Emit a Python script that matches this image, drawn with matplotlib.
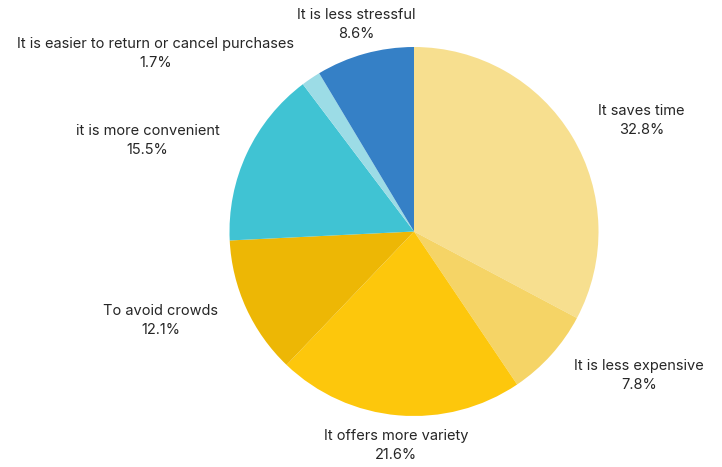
import numpy as np
import matplotlib
matplotlib.use("Agg")
import matplotlib.pyplot as plt

plt.rcParams["font.family"] = ["Inter", "DejaVu Sans"]

reasons = ["It saves time", "It is less expensive", "It offers more variety",
           "To avoid crowds", "it is more convenient",
           "It is easier to return or cancel purchases", "It is less stressful"]
shares = [32.8, 7.8, 21.6, 12.1, 15.5, 1.7, 8.6]
colors = ["#F7DF8F", "#F5D466", "#FDC70C", "#EDB705", "#40C3D3", "#9CDCE6", "#3580C6"]

R_PX = 184.5          # pie radius in pixels
CX, CY = 414, 231.5   # pie centre, pixels from top-left
W, H = 722, 467

fig = plt.figure(figsize=(W / 100, H / 100), dpi=100)
ax = fig.add_axes([0, 0, 1, 1])

labels = [f"{r}\n{s:.1f}%" for r, s in zip(reasons, shares)]
wedges, texts = ax.pie(shares, labels=labels, colors=colors, startangle=90,
                       counterclock=False, labeldistance=1.165,
                       wedgeprops=dict(linewidth=0),
                       textprops=dict(fontsize=10.5, color="#262626", linespacing=1.45))

for w, t in zip(wedges, texts):
    mid = np.deg2rad((w.theta1 + w.theta2) / 2)
    if abs(np.cos(mid)) < 0.3:
        t.set_ha("center")
    t.set_va("center")
    t.set_multialignment("center")

ax.set_xlim(-CX / R_PX, (W - CX) / R_PX)
ax.set_ylim(-(H - CY) / R_PX, CY / R_PX)
ax.set_aspect("equal")
ax.axis("off")

fig.savefig("out.png", dpi=100)
